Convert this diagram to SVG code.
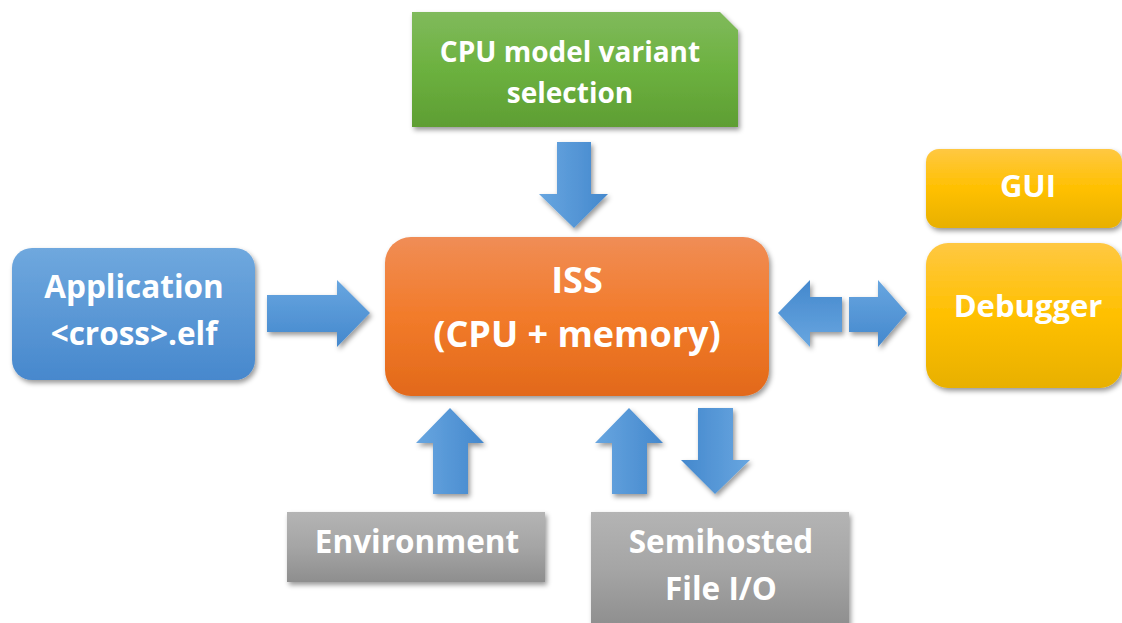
<svg xmlns="http://www.w3.org/2000/svg" width="1122" height="623" viewBox="0 0 1122 623">
<defs>
<linearGradient id="gBlue" x1="0" y1="0" x2="0" y2="1"><stop offset="0" stop-color="#6fa8de"/><stop offset="1" stop-color="#4788cd"/></linearGradient>
<linearGradient id="gOrange" x1="0" y1="0" x2="0" y2="1"><stop offset="0" stop-color="#f08d56"/><stop offset="0.5" stop-color="#f27b2a"/><stop offset="1" stop-color="#e2691a"/></linearGradient>
<linearGradient id="gGreen" x1="0" y1="0" x2="0" y2="1"><stop offset="0" stop-color="#80ba5c"/><stop offset="0.5" stop-color="#6cb13f"/><stop offset="1" stop-color="#5e9e33"/></linearGradient>
<linearGradient id="gYellow" x1="0" y1="0" x2="0" y2="1"><stop offset="0" stop-color="#ffc842"/><stop offset="0.5" stop-color="#ffc000"/><stop offset="1" stop-color="#e8b000"/></linearGradient>
<linearGradient id="gGray" x1="0" y1="0" x2="0" y2="1"><stop offset="0" stop-color="#b4b4b4"/><stop offset="0.5" stop-color="#a5a5a5"/><stop offset="1" stop-color="#8e8e8e"/></linearGradient>
<linearGradient id="aDown" x1="0" y1="0" x2="0" y2="1"><stop offset="0" stop-color="#68a6e0"/><stop offset="1" stop-color="#4488cd"/></linearGradient>
<linearGradient id="aUp" x1="0" y1="1" x2="0" y2="0"><stop offset="0" stop-color="#68a6e0"/><stop offset="1" stop-color="#4488cd"/></linearGradient>
<linearGradient id="aRight" x1="0" y1="0" x2="1" y2="0"><stop offset="0" stop-color="#68a6e0"/><stop offset="1" stop-color="#4488cd"/></linearGradient>
<linearGradient id="aLeft" x1="1" y1="0" x2="0" y2="0"><stop offset="0" stop-color="#68a6e0"/><stop offset="1" stop-color="#4488cd"/></linearGradient>
<filter id="sh" x="-10%" y="-10%" width="130%" height="140%">
<feDropShadow dx="2" dy="3" stdDeviation="2.5" flood-color="#000" flood-opacity="0.4"/>
</filter>
</defs>
<style>
text{font-family:"Open Sans","Liberation Sans",sans-serif;font-weight:700;fill:#ffffff;text-anchor:middle}
.shp{filter:url(#sh)}
</style>
<rect width="1122" height="623" fill="#ffffff"/>

<g id="connectors">
<path class="shp" fill="url(#aRight)" d="M557,142 H591 V194 H608 L574,228 L539,194 H557 Z"/>
<path class="shp" fill="url(#aDown)" d="M267,295 H337 V280 L370,313 L337,347 V332 H267 Z"/>
<path class="shp" fill="url(#aUp)" d="M842,297 H810 V280 L778,313 L810,347 V332 H842 Z"/>
<path class="shp" fill="url(#aDown)" d="M849,297 H878 V280 L907,313 L878,347 V332 H849 Z"/>
<path class="shp" fill="url(#aRight)" d="M433,494 V443 H416 L450,408 L484,443 H468 V494 Z"/>
<path class="shp" fill="url(#aRight)" d="M612,494 V443 H595 L629,408 L663,443 H647 V494 Z"/>
<path class="shp" fill="url(#aLeft)" d="M698,408 H733 V460 H750 L715,494 L681,460 H698 Z"/>
</g>

<g id="node-cpu-variant">
<path class="shp" fill="url(#gGreen)" d="M412,12 H720 L738,30 V127 H412 Z"/>
<text x="570" y="62" font-size="28">CPU model variant</text>
<text x="570" y="103" font-size="28">selection</text>
</g>

<g id="node-application">
<rect class="shp" x="12" y="248" width="243" height="132" rx="20" fill="url(#gBlue)"/>
<text x="134" y="298" font-size="31.5">Application</text>
<text x="134" y="345" font-size="31.5">&lt;cross&gt;.elf</text>
</g>

<g id="node-iss">
<rect class="shp" x="385" y="237" width="384" height="159" rx="26" fill="url(#gOrange)"/>
<text x="577" y="293" font-size="36">ISS</text>
<text x="577" y="347" font-size="36">(CPU + memory)</text>
</g>

<g id="node-gui">
<rect class="shp" x="926" y="149" width="196" height="79" rx="13" fill="url(#gYellow)"/>
<text x="1028" y="197" font-size="31">GUI</text>
</g>

<g id="node-debugger">
<rect class="shp" x="926" y="243" width="196" height="145" rx="22" fill="url(#gYellow)"/>
<text x="1028" y="317" font-size="31">Debugger</text>
</g>

<g id="node-environment">
<rect class="shp" x="287" y="512" width="258" height="70" fill="url(#gGray)"/>
<text x="417" y="553" font-size="31.5">Environment</text>
</g>

<g id="node-fileio">
<rect class="shp" x="591" y="512" width="258" height="115" fill="url(#gGray)"/>
<text x="721" y="553" font-size="31.5">Semihosted</text>
<text x="721" y="600" font-size="31.5">File I/O</text>
</g>
</svg>
